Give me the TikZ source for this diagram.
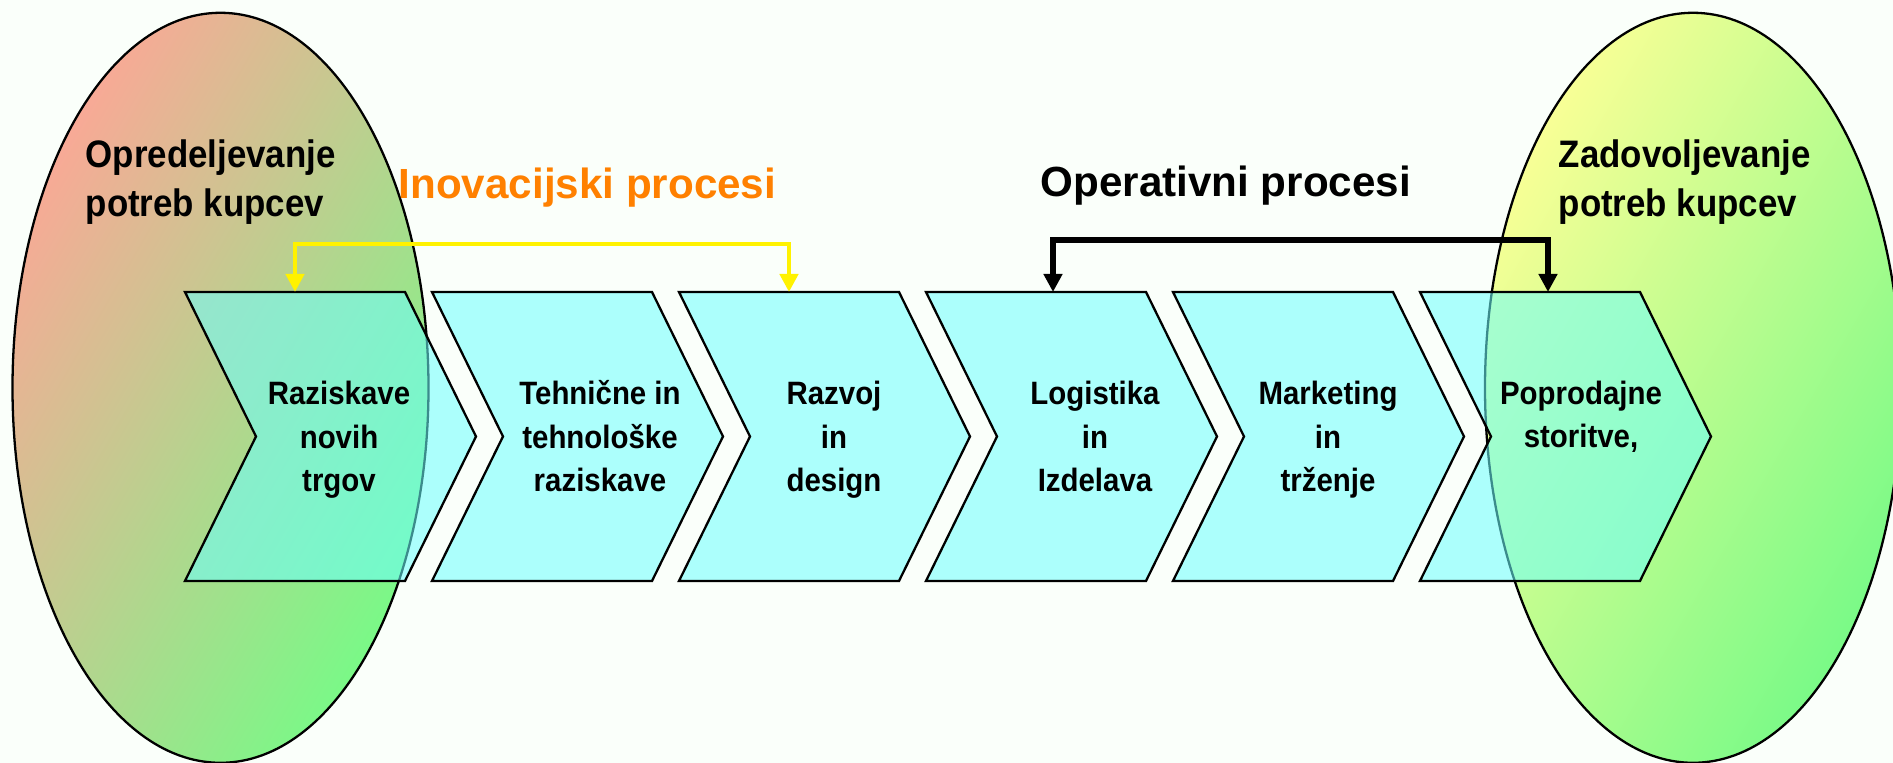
\documentclass[tikz,border=0pt]{standalone}
\usepackage{fontspec}
\setmainfont{Liberation Sans}
\newfontfamily\narrowsans[FakeStretch=0.91]{Liberation Sans}
\newfontfamily\chevsans[FakeStretch=0.91]{Liberation Sans}
\usetikzlibrary{calc,arrows.meta}
\definecolor{bgwhite}{RGB}{250,255,250}
\definecolor{chevcyan}{RGB}{109,255,255}
\definecolor{salmon}{RGB}{250,168,150}
\definecolor{paleyellow}{RGB}{250,255,150}
\definecolor{leafgreen}{RGB}{120,250,135}
\definecolor{innorange}{RGB}{255,128,0}
\def\chevron[#1](#2){\draw[#1] (#2) -- ++(2.2,0) -- ++(0.71,-1.445) -- ++(-0.71,-1.445) -- ++(-2.2,0) -- ++(0.71,1.445) -- cycle;}
\tikzset{
	chev/.style={fill=chevcyan, fill opacity=0.55, draw=black, line width=0.65pt},
	chevlabel/.style={anchor=base, align=center, inner sep=0pt, font=\chevsans\bfseries\fontsize{9.2}{12.5}\selectfont},
	sidelabel/.style={anchor=base west, align=left, inner sep=0pt, font=\narrowsans\bfseries\fontsize{10.9}{14.2}\selectfont},
	procesi/.style={anchor=base west, inner sep=0pt, font=\bfseries\fontsize{12}{14}\selectfont},
	innarrow/.style={draw=yellow, line width=1.4pt, <->},
	oparrow/.style={draw=black, line width=1.5pt, <->}
}

\begin{document}
\begin{tikzpicture}[>={Triangle[width=0.18cm,length=0.18cm]}]
	%%%%% START %%%%%
	\fill[bgwhite] (0,0) rectangle (18.93,7.63);
	\useasboundingbox (0,0) rectangle (18.93,7.63);
	
	% customer ellipses
	\draw[line width=0.65pt, top color=salmon, bottom color=leafgreen, shading angle=60] (2.205,3.752) ellipse (2.08 and 3.75);
	\draw[line width=0.65pt, top color=paleyellow, bottom color=leafgreen, shading angle=60] (16.93,3.752) ellipse (2.08 and 3.75);
	
	% value chain
	\chevron[chev](1.85,4.71)
	\chevron[chev](4.32,4.71)
	\chevron[chev](6.79,4.71)
	\chevron[chev](9.26,4.71)
	\chevron[chev](11.73,4.71)
	\chevron[chev](14.20,4.71)
	
	% labels sit on the baseline of their last line
	\node[chevlabel] (raziskave) at (3.39,2.71) {Raziskave\\novih\\trgov};
	\node[chevlabel] (tehnicne) at (6.00,2.71) {Tehnične in\\tehnološke\\raziskave};
	\node[chevlabel] (razvoj) at (8.34,2.71) {Razvoj\\in\\design};
	\node[chevlabel] (logistika) at (10.95,2.71) {Logistika\\in\\Izdelava};
	\node[chevlabel] (marketing) at (13.28,2.71) {Marketing\\in\\trženje};
	\node[chevlabel] (poprodajne) at (15.81,3.15) {Poprodajne\\storitve,};
	
	% process brackets
	\coordinate (raz-top) at (2.95,4.71);
	\coordinate (razv-top) at (7.89,4.71);
	\coordinate (log-top) at (10.53,4.71);
	\coordinate (pop-top) at (15.48,4.71);
	\draw[innarrow] (raz-top) -- ++(0,0.48) -| (razv-top);
	\draw[oparrow] (log-top) -- ++(0,0.52) -| (pop-top);
	
	\node[procesi, text=innorange] (inovacijski) at (3.98,5.64) {Inovacijski procesi};
	\node[procesi] (operativni) at (10.40,5.66) {Operativni procesi};
	
	\node[sidelabel] (opredeljevanje) at (0.85,5.46) {Opredeljevanje\\potreb kupcev};
	\node[sidelabel] (zadovoljevanje) at (15.58,5.46) {Zadovoljevanje\\potreb kupcev};
	%%%%% END %%%%%
\end{tikzpicture}
\end{document}
